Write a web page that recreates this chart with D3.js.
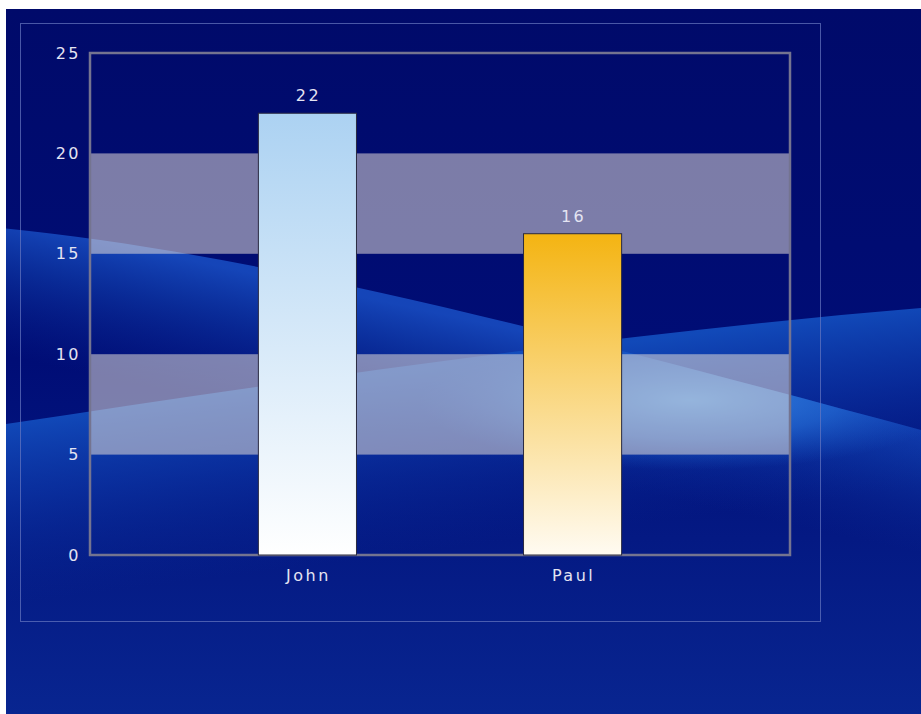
<!DOCTYPE html>
<html><head><meta charset="utf-8">
<script src="https://cdn.jsdelivr.net/npm/d3@7"></script>
<style>
html,body{margin:0;padding:0;background:#fff;}
svg{display:block;}
text{font-family:"DejaVu Sans",Verdana,sans-serif;}
</style></head>
<body>
<script>
const categories = ["John", "Paul"];
const values = [22, 16];
const yTicks = [0, 5, 10, 15, 20, 25];
const bandRanges = [[5, 10], [15, 20]];

const W = 921, H = 714;
const svg = d3.select("body").append("svg").attr("width", W).attr("height", H);
const defs = svg.append("defs");

function lg(id, x1, y1, x2, y2, stops, user) {
  const g = defs.append("linearGradient").attr("id", id)
    .attr("x1", x1).attr("y1", y1).attr("x2", x2).attr("y2", y2);
  if (user) g.attr("gradientUnits", "userSpaceOnUse");
  stops.forEach(s => g.append("stop").attr("offset", s[0]).attr("stop-color", s[1]).attr("stop-opacity", s[2] == null ? 1 : s[2]));
}

lg("bg", 0, 0, 0, 1, [[0, "#000a6a"], [0.5, "#000d76"], [1, "#082590"]]);
lg("wA", 460, 318, 432, 448, [[0, "#1648bc", 0.95], [0.35, "#1040b0", 0.6], [1, "#0a2a98", 0]], true);
lg("wB", 460, 364, 483, 544, [[0, "#124cbc", 0.95], [0.4, "#0e3eb0", 0.6], [1, "#082a98", 0]], true);

const hl = defs.append("radialGradient").attr("id","hl").attr("cx",0.5).attr("cy",0.5).attr("r",0.5);
hl.append("stop").attr("offset","0").attr("stop-color","#3a8ae6").attr("stop-opacity",0.95);
hl.append("stop").attr("offset","0.55").attr("stop-color","#2670d8").attr("stop-opacity",0.6);
hl.append("stop").attr("offset","1").attr("stop-color","#1a5ac8").attr("stop-opacity",0);

lg("gJ", 0, 0, 0, 1, [[0, "#acd2f2"], [1, "#ffffff"]]);
lg("gP", 0, 0, 0, 1, [[0, "#f4b412"], [1, "#fffbf2"]]);

const edgeA = "M0,228 C250,252 550,330 921,430";
const edgeB = "M0,425 C300,380 600,335 921,308";
const shapeA = edgeA + " L921,714 L0,714 Z";
const shapeB = edgeB + " L921,714 L0,714 Z";

defs.append("clipPath").attr("id","bgclip").append("rect").attr("x",6).attr("y",9).attr("width",W-6).attr("height",H-9);
defs.append("clipPath").attr("id","belowB").append("path").attr("d", shapeB);
defs.append("clipPath").attr("id","belowA").append("path").attr("d", shapeA);

const bgG = svg.append("g").attr("clip-path","url(#bgclip)");
bgG.append("rect").attr("x",6).attr("y",9).attr("width",W-6).attr("height",H-9).attr("fill","url(#bg)");
bgG.append("path").attr("d", shapeA).attr("fill","url(#wA)");
bgG.append("path").attr("d", shapeB).attr("fill","url(#wB)");
bgG.append("g").attr("clip-path","url(#belowA)")
  .append("g").attr("clip-path","url(#belowB)")
  .append("ellipse").attr("cx",690).attr("cy",400).attr("rx",270).attr("ry",70)
  .attr("fill","url(#hl)");

// outer frame
svg.append("rect").attr("x",20.5).attr("y",23.5).attr("width",800).attr("height",598)
  .attr("fill","none").attr("stroke","#6878c0").attr("stroke-opacity",0.7).attr("stroke-width",1);

const m = {l: 90, t: 53, r: 790, b: 555};
const x = d3.scaleBand().domain(categories).range([m.l, m.r]).paddingInner(0.63).paddingOuter(0.635);
const y = d3.scaleLinear().domain([0, 25]).range([m.b, m.t]);

// bands
svg.append("g").selectAll("rect").data(bandRanges).join("rect")
  .attr("x", m.l).attr("width", m.r - m.l)
  .attr("y", d => y(d[1])).attr("height", d => y(d[0]) - y(d[1]))
  .attr("fill","rgb(225,218,215)").attr("fill-opacity",0.55);

// plot border
svg.append("path").attr("d",`M${m.l},${m.t}H${m.r}V${m.b}H${m.l}Z`)
  .attr("fill","none").attr("stroke","#747490").attr("stroke-width",2.5);

// bars
const fills = ["url(#gJ)","url(#gP)"];
svg.append("g").selectAll("rect").data(values).join("rect")
  .attr("x",(d,i)=>x(categories[i])).attr("width",x.bandwidth())
  .attr("y",d=>y(d)).attr("height",d=>y(0)-y(d))
  .attr("fill",(d,i)=>fills[i]).attr("stroke","#2a2a40").attr("stroke-width",1);

const txtCol = "#e4e4f2";
const fs = "16px", ls = "2.5px";

// value labels
svg.append("g").selectAll("text").data(values).join("text")
  .attr("x",(d,i)=>x(categories[i])+x.bandwidth()/2 + 1).attr("y",d=>y(d)-12)
  .attr("text-anchor","middle").attr("fill",txtCol).attr("font-size",fs).attr("letter-spacing",ls).text(d=>d);

// y axis
const yAxis = d3.axisLeft(y).tickValues(yTicks).tickSize(0).tickPadding(9);
const ya = svg.append("g").attr("transform",`translate(${m.l},0)`).call(yAxis);
ya.select(".domain").remove();
ya.selectAll("text").attr("fill",txtCol).attr("font-size",fs).attr("letter-spacing",ls)
  .attr("font-family","DejaVu Sans, Verdana, sans-serif");

// x axis
const xAxis = d3.axisBottom(x).tickSize(0).tickPadding(15);
const xa = svg.append("g").attr("transform",`translate(1,${m.b})`).call(xAxis);
xa.select(".domain").remove();
xa.selectAll("text").attr("fill",txtCol).attr("font-size",fs).attr("letter-spacing",ls)
  .attr("font-family","DejaVu Sans, Verdana, sans-serif");
</script>
</body></html>
